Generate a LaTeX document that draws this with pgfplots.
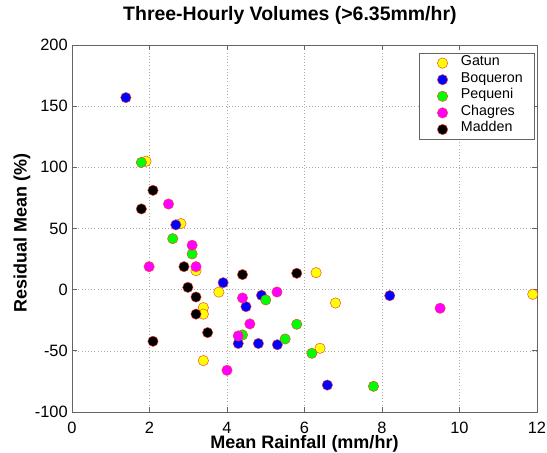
\documentclass[border=0pt]{standalone}
\usepackage{pgfplots}
\pgfplotsset{compat=1.18}
\usepackage{fontspec}
\setmainfont{Liberation Sans}
\definecolor{framegray}{RGB}{100,100,100}
\definecolor{gridgray}{RGB}{170,170,170}
\definecolor{edgered}{RGB}{240,70,50}
\definecolor{myyellow}{RGB}{255,255,0}
\definecolor{myblue}{RGB}{0,0,255}
\definecolor{mygreen}{RGB}{0,255,0}
\definecolor{mymagenta}{RGB}{255,0,255}
\definecolor{myblack}{RGB}{0,0,0}
\begin{document}
\begin{tikzpicture}
\begin{axis}[name=ax, scale only axis, width=348.75pt, height=275.25pt,
  xmin=0, xmax=12, ymin=-100, ymax=200,
  xtick={0,2,...,12}, ytick={-100,-50,...,200},
  grid=major,
  major grid style={gridgray, line width=0.4pt, dash pattern=on 0.8pt off 1.6pt},
  axis line style={framegray, line width=0.6pt},
  tick style={framegray, line width=0.6pt},
  tick align=inside, major tick length=3.75pt,
  clip=false,
  /pgf/number format/assume math mode=true,
  tick label style={font=\fontsize{12.3}{14}\selectfont},
  xticklabel style={anchor=north, inner sep=0pt, yshift=-7.3pt},
  yticklabel style={anchor=east, inner sep=0pt, xshift=-3pt},
  title={Three-Hourly Volumes (>6.35mm/hr)},
  title style={font=\bfseries\fontsize{14.6}{17}\selectfont, at={(axis description cs:0.4686,1.0436)}, anchor=base, inner sep=0pt},
  xlabel={Mean Rainfall (mm/hr)},
  xlabel style={font=\bfseries\fontsize{13.5}{16}\selectfont, at={(axis description cs:0.5,-0.1008)}, anchor=base, inner sep=0pt},
  ylabel={Residual Mean (\%)},
  ylabel style={font=\bfseries\fontsize{13.5}{16}\selectfont, at={(axis description cs:-0.0974,0.489)}, anchor=base, inner sep=0pt},
  legend style={at={(axis description cs:0.9957,0.978)}, anchor=north east,
    draw=framegray, font=\fontsize{10.7}{12}\selectfont,
    inner xsep=5.35pt, inner ysep=1.1pt,
    nodes={inner xsep=3.6pt, inner ysep=0pt, text height=8pt, text depth=4.45pt}},
  legend cell align=left,
  legend image code/.code={\path (-12pt,0pt) (10pt,0pt); \draw[#1] plot coordinates {(0pt,0pt)};},
  every axis plot/.append style={only marks, mark=*, mark size=3.9pt, line width=0.35pt},
]
\addplot[mark options={draw=edgered, fill=myyellow}] coordinates {
(1.91,105) (2.81,54) (3.2,15.5) (3.39,-14.7) (3.39,-20) (3.39,-58) (3.79,-2)
(6.30,13.9) (6.40,-47.9) (6.80,-10.9) (11.89,-3.8)};
\addlegendentry{Gatun}
\addplot[mark options={draw=edgered, fill=myblue}] coordinates {
(1.39,157) (2.68,53) (3.90,5.7) (4.29,-44) (4.49,-13.9) (4.81,-44) (4.89,-4.6)
(5.30,-45) (6.59,-78) (8.20,-4.9)};
\addlegendentry{Boqueron}
\addplot[mark options={draw=edgered, fill=mygreen}] coordinates {
(1.79,104) (2.60,41.7) (3.10,29.2) (4.40,-37) (5.00,-8.4) (5.50,-40.3)
(5.80,-28.3) (6.19,-52) (7.78,-79)};
\addlegendentry{Pequeni}
\addplot[mark options={draw=edgered, fill=mymagenta}] coordinates {
(1.99,18.8) (2.49,70) (3.10,36.3) (3.20,18.8) (4.00,-65.9) (4.29,-37.8)
(4.40,-6.8) (4.59,-28) (5.29,-1.9) (9.50,-15.2)};
\addlegendentry{Chagres}
\addplot[mark options={draw=edgered, fill=myblack}] coordinates {
(2.09,81.2) (1.79,66) (2.89,18.8) (2.99,1.9) (3.20,-6) (3.20,-20) (3.50,-35.1)
(2.09,-42.2) (4.40,12.3) (5.80,13.4)};
\addlegendentry{Madden}
\end{axis}
\pgfresetboundingbox
\path[use as bounding box] ([xshift=-54pt,yshift=-30.75pt]ax.south west) rectangle ([xshift=7.5pt,yshift=33.75pt]ax.north east);
\end{tikzpicture}
\end{document}
